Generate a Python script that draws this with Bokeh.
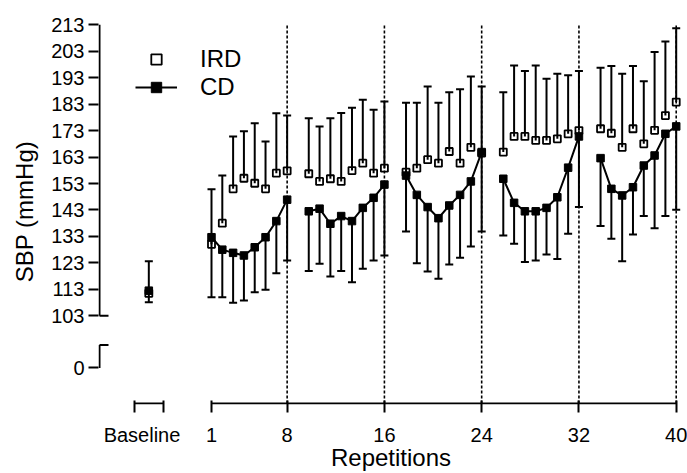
import numpy as np
from bokeh.plotting import figure
from bokeh.models import (ColumnDataSource, Range1d, FixedTicker, Whisker, TeeHead,
                          Legend, LegendItem)
from bokeh.embed import file_html
from bokeh.resources import INLINE

# ---------------- data ----------------
reps = list(range(1, 41))
ird_mean = [130.0, 138.0, 151.0, 155.0, 153.1, 151.0, 156.9, 157.8,
            156.7, 153.8, 154.8, 153.8, 157.9, 160.7, 156.9, 158.8,
            157.3, 158.8, 162.0, 160.7, 165.1, 160.7, 166.7, 164.5,
            164.9, 170.8, 170.8, 169.3, 169.3, 169.9, 171.8, 173.0,
            173.7, 172.0, 166.7, 173.7, 168.0, 173.1, 178.7, 183.8]
ird_upper = [150.8, 156.0, 170.8, 172.8, 175.8, 168.9, 179.6, 178.7,
             177.7, 174.6, 177.7, 179.7, 181.6, 184.7, 180.9, 184.0,
             183.5, 183.5, 189.7, 183.5, 187.5, 188.6, 193.5, 189.7,
             187.5, 197.6, 195.5, 197.6, 192.6, 194.5, 193.9, 195.5,
             196.8, 197.4, 194.5, 197.4, 191.7, 202.7, 206.7, 211.7]
cd_mean = [132.7, 128.0, 126.8, 125.8, 128.9, 132.7, 138.8, 146.9,
           142.5, 143.5, 137.8, 140.7, 138.8, 143.8, 147.6, 152.6,
           156.0, 148.7, 144.1, 139.9, 144.7, 148.7, 153.8, 164.9,
           154.8, 145.7, 142.5, 142.5, 143.8, 147.8, 159.0, 170.8,
           162.6, 151.0, 148.5, 151.6, 159.8, 163.6, 171.8, 174.6]
cd_lower = [110.0, 110.0, 107.9, 108.8, 111.9, 112.8, 119.1, 123.9,
            119.9, 122.7, 117.9, 119.9, 115.7, 120.8, 123.9, 125.8,
            134.9, 122.9, 119.7, 117.0, 122.4, 124.9, 129.2, 134.9,
            133.4, 130.2, 123.3, 123.9, 126.2, 124.5, 134.0, 144.1,
            136.9, 132.1, 123.6, 133.7, 140.7, 136.1, 140.7, 143.1]

baseline_ird_mean = 111.5
baseline_ird_upper = 123.6
baseline_cd_mean = 112.5
baseline_cd_lower = 108.1

x_tick_reps = [1, 8, 16, 24, 32, 40]
y_ticks = [103, 113, 123, 133, 143, 153, 163, 173, 183, 193, 203, 213]
y_zero_label = "0"
baseline_label = "Baseline"

# ---------------- layout helpers ----------------
BLOCK = 8


def pos(r):
    # position on the x axis: blocks of 8 repetitions separated by one gap
    return r + (r - 1) // BLOCK


BASE_X = -4.8               # baseline position
BASE_CAPS = [-6.12, -3.44]  # baseline axis segment ends
BASE_LABEL_X = -5.43
ZERO_POS = 83.3             # position of the "0" tick on the broken axis
LOWER_TOP = 92.0            # top of the lower axis segment

W, H = 687, 473
BL, BR, BT, BB = 98, 4, 18, 69
FRAME_W, FRAME_H = W - BL - BR, H - BT - BB
X_START, X_END = -9.456, 44.675
Y_START, Y_END = 69.47, 215.38
px_x = (X_END - X_START) / FRAME_W
px_y = (Y_END - Y_START) / FRAME_H

x_pos = [pos(r) for r in reps]

ird_src = ColumnDataSource(dict(x=[BASE_X] + x_pos,
                                y=[baseline_ird_mean] + ird_mean,
                                up=[baseline_ird_upper] + ird_upper))
cd_src = ColumnDataSource(dict(x=[BASE_X] + x_pos,
                               y=[baseline_cd_mean] + cd_mean,
                               lo=[baseline_cd_lower] + cd_lower))

FONT = "Liberation Sans"

p = figure(width=W, height=H, output_backend="svg", toolbar_location=None,
           x_range=Range1d(X_START, X_END), y_range=Range1d(Y_START, Y_END),
           min_border_left=BL, min_border_right=BR, min_border_top=BT,
           min_border_bottom=BB)
p.grid.visible = False
p.outline_line_color = None
p.background_fill_color = "white"
p.border_fill_color = "white"

# ---------------- x axis: labels on (invisible) major ticks, marks as minor ticks ----
xa = p.xaxis[0]
rep_tick_pos = [pos(r) for r in x_tick_reps]
xa.ticker = FixedTicker(ticks=[BASE_LABEL_X] + rep_tick_pos,
                        minor_ticks=BASE_CAPS + rep_tick_pos)
overrides = {BASE_LABEL_X: baseline_label}
overrides.update({pos(r): str(r) for r in x_tick_reps})
xa.major_label_overrides = overrides
xa.axis_line_color = None
xa.major_tick_in = 0
xa.major_tick_out = 8
xa.major_tick_line_color = None
xa.minor_tick_in = 4
xa.minor_tick_out = 8
xa.minor_tick_line_width = 2
xa.minor_tick_line_color = "black"
xa.major_label_standoff = 11
xa.major_label_text_font = FONT
xa.major_label_text_font_size = "20px"
xa.major_label_text_color = "black"
xa.axis_label = "Repetitions"
xa.axis_label_text_font = FONT
xa.axis_label_text_font_size = "24px"
xa.axis_label_text_font_style = "normal"
xa.axis_label_text_color = "black"
xa.axis_label_standoff = -5

# ---------------- y axis ----------------
ya = p.yaxis[0]
ya.ticker = FixedTicker(ticks=[ZERO_POS] + y_ticks, minor_ticks=[])
ya.major_label_overrides = {ZERO_POS: y_zero_label}
ya.axis_line_color = None
ya.major_tick_in = 0
ya.major_tick_out = 10
ya.major_tick_line_width = 2
ya.major_tick_line_color = "black"
ya.minor_tick_line_color = None
ya.major_label_standoff = 4
ya.major_label_text_font = FONT
ya.major_label_text_font_size = "20px"
ya.major_label_text_color = "black"
ya.axis_label = "SBP (mmHg)"
ya.axis_label_text_font = FONT
ya.axis_label_text_font_size = "24px"
ya.axis_label_text_font_style = "normal"
ya.axis_label_text_color = "black"
ya.axis_label_standoff = 10

# ---------------- broken axis lines ----------------
ax_x = X_START + 1.0 * px_x
ax_y = Y_START + 1.0 * px_y
cap = 9 * px_x
p.segment(x0=[ax_x, ax_x, ax_x, ax_x],
          y0=[y_ticks[0], y_ticks[0], ZERO_POS, LOWER_TOP],
          x1=[ax_x, ax_x + cap, ax_x, ax_x + cap],
          y1=[y_ticks[-1], y_ticks[0], LOWER_TOP, LOWER_TOP],
          line_color="black", line_width=2)
p.segment(x0=[pos(x_tick_reps[0]), BASE_CAPS[0]], y0=[ax_y, ax_y],
          x1=[pos(x_tick_reps[-1]), BASE_CAPS[1]], y1=[ax_y, ax_y],
          line_color="black", line_width=2)

# dotted block separators
div_x = [pos(r) for r in x_tick_reps[1:]]
p.segment(x0=div_x, y0=[ax_y] * len(div_x), x1=div_x, y1=[y_ticks[-1]] * len(div_x),
          line_color="black", line_width=1.6, line_dash="3 2")

# ---------------- error bars ----------------
w_ird = Whisker(source=ird_src, base="x", lower="y", upper="up",
                lower_head=None,
                upper_head=TeeHead(size=8, line_width=2, line_color="black"),
                line_width=2, line_color="black")
w_cd = Whisker(source=cd_src, base="x", lower="lo", upper="y",
               upper_head=None,
               lower_head=TeeHead(size=8, line_width=2, line_color="black"),
               line_width=2, line_color="black")
p.add_layout(w_ird)
p.add_layout(w_cd)

# ---------------- CD line + markers ----------------
xs = [x_pos[i:i + BLOCK] for i in range(0, len(reps), BLOCK)]
ys = [cd_mean[i:i + BLOCK] for i in range(0, len(reps), BLOCK)]
cd_line = p.multi_line(xs, ys, line_color="black", line_width=2)
cd_r = p.scatter("x", "y", source=cd_src, marker="square", size=7.5,
                 fill_color="black", line_color="black", line_width=1)
ird_r = p.scatter("x", "y", source=ird_src, marker="square", size=7,
                  fill_color=None, line_color="black", line_width=1.8)

# ---------------- legend ----------------
legend = Legend(items=[LegendItem(label="IRD", renderers=[ird_r]),
                       LegendItem(label="CD", renderers=[cd_line, cd_r])],
                location=(37, 303), orientation="vertical",
                glyph_width=42, glyph_height=26, label_height=26,
                label_standoff=23, spacing=0, padding=0, margin=0,
                border_line_color=None, background_fill_alpha=0,
                label_text_font=FONT, label_text_font_size="24px",
                label_text_color="black")
p.add_layout(legend)

open("out.html", "w").write(file_html(p, INLINE))
